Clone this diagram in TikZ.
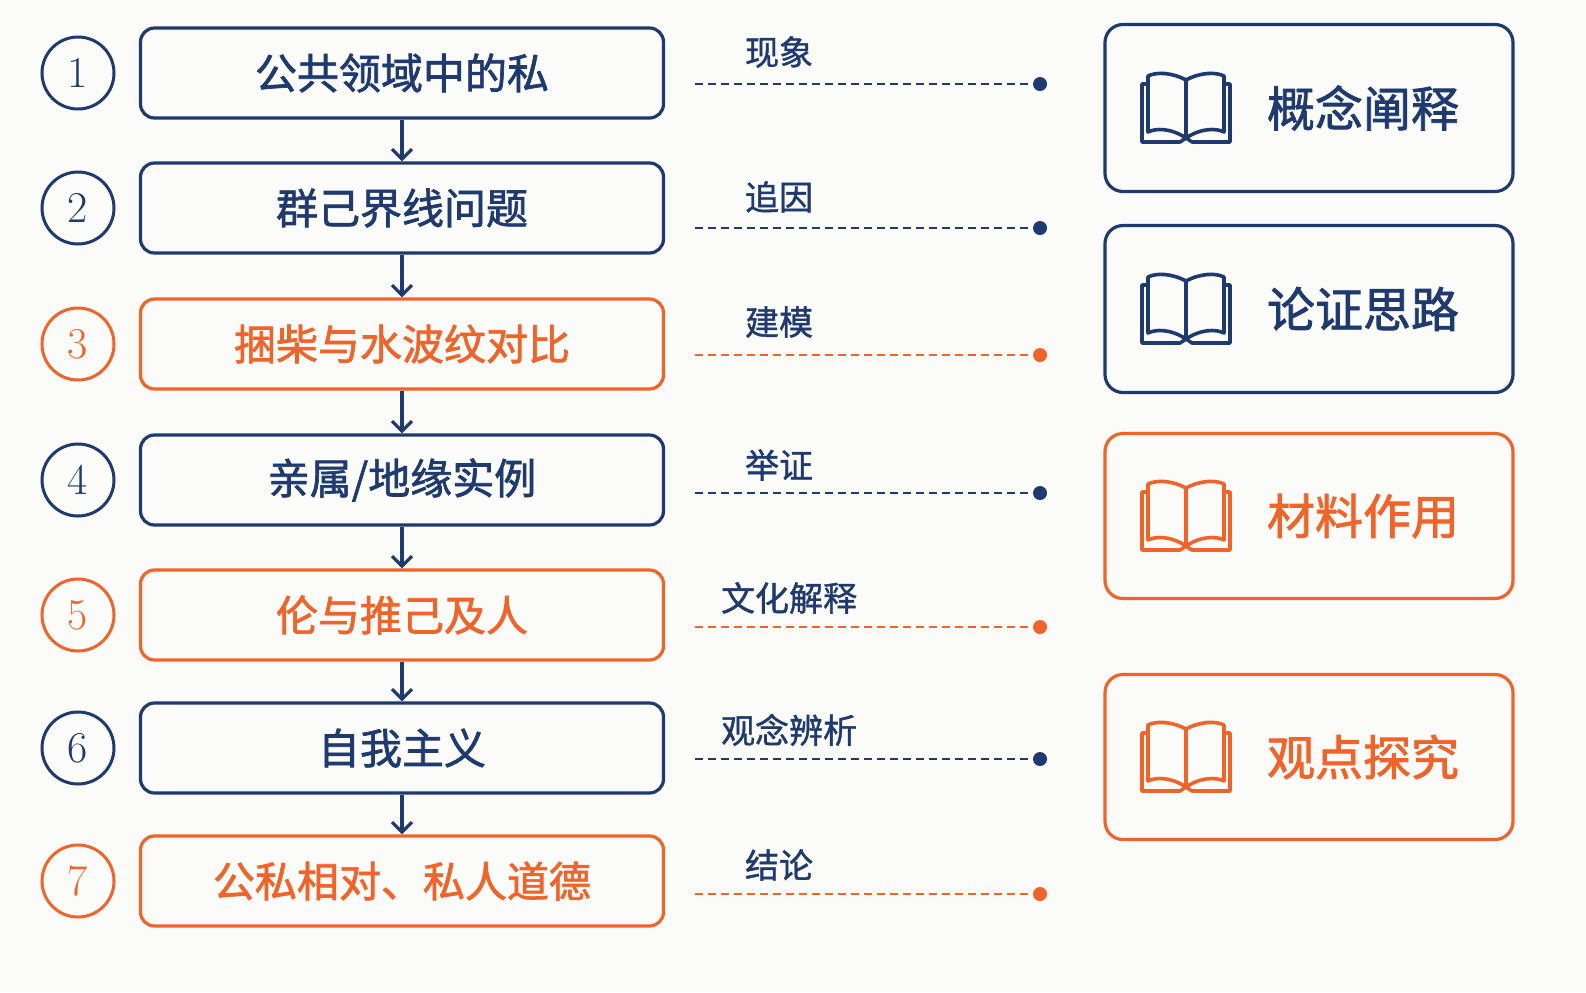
\documentclass[tikz,border=0pt]{standalone}
\usetikzlibrary{arrows.meta}
\usepackage{fontspec}
\newfontfamily\cjk{Noto Sans CJK SC}[FakeBold=1.6]
\newfontfamily\cjkl{Noto Sans CJK SC}[FakeBold=1.2]
\begin{document}
\definecolor{navy}{HTML}{1E3A6E}
\definecolor{org}{HTML}{F0642A}
\definecolor{bg}{HTML}{FBFBFA}
\begin{tikzpicture}[x=0.5pt,y=-0.5pt,
  step/.style={draw=#1,line width=1.6pt,rounded corners=7pt,minimum width=261.5pt,minimum height=45pt,text=#1,font=\cjk\fontsize{21}{24}\selectfont},
  num/.style={draw=#1,line width=1.5pt,circle,minimum size=36pt,inner sep=0pt,text=#1,font=\fontsize{22}{24}\selectfont},
  lab/.style={anchor=west,text=navy,font=\cjkl\fontsize{17}{20}\selectfont},
  dl/.style={draw=#1,dashed,line width=1.1pt,dash pattern=on 4pt off 2.5pt},
  dot/.style={fill=#1,circle,inner sep=0pt,minimum size=7pt},
  side/.style={draw=#1,line width=1.6pt,rounded corners=9pt,minimum width=204pt,text=#1},
  arr/.style={draw=navy,line width=1.6pt,-{Straight Barb[length=5pt,width=10pt]}},
  book/.pic={\begin{scope}[draw=#1,line width=1.8pt,line join=round]
    \draw (0,-28) -- (0,30);
    \draw (0,-28) .. controls (-15,-36) and (-30,-36) .. (-38,-32) -- (-38,24) .. controls (-30,20) and (-15,20) .. (0,30);
    \draw (0,-28) .. controls (15,-36) and (30,-36) .. (38,-32) -- (38,24) .. controls (30,20) and (15,20) .. (0,30);
    \draw (-38,-24) -- (-44,-24) -- (-44,34) -- (-6,34) -- (0,30) -- (6,34) -- (44,34) -- (44,-24) -- (38,-24);
  \end{scope}}]
\fill[bg] (0,0) rectangle (1586,992);
\useasboundingbox (0,0) rectangle (1586,992);
\foreach \i/\y/\c/\t in {1/73/navy/公共领域中的私,2/208/navy/群己界线问题,3/344/org/捆柴与水波纹对比,4/480/navy/{亲属/地缘实例},5/615/org/伦与推己及人,6/748/navy/自我主义,7/881/org/公私相对、私人道德}{
  \node[step=\c] (s\i) at (402,\y) {\t};
  \node[num=\c] (n\i) at (78,\y) {\i};
}
\foreach \a/\b in {1/2,2/3,3/4,4/5,5/6,6/7}{\draw[arr] (s\a.south) -- (s\b.north);}
\foreach \i/\y/\ly/\c/\x/\t in {1/84/52/navy/738/现象,2/228/197/navy/738/追因,3/355/322/org/738/建模,4/493/465/navy/738/举证,5/627/598/org/714/文化解释,6/759/730/navy/714/观念辨析,7/894/865/org/738/结论}{
  \node[lab] (l\i) at (\x,\ly) {\t};
  \coordinate (a\i) at (695,\y);
  \node[dot=\c] (d\i) at (1040,\y) {};
  \draw[dl=\c] (a\i) -- (d\i);
}
\foreach \i/\y/\h/\c/\t in {1/108/167/navy/概念阐释,2/309/167/navy/论证思路,3/516/165/org/材料作用,4/757/165/org/观点探究}{
  \node[side=\c,minimum height=\h*0.5pt] (r\i) at (1309,\y) {};
  \pic at (1186,\y) {book=\c};
  \node[text=\c,font=\cjk\fontsize{24}{28}\selectfont] (t\i) at (1363,\y) {\t};
}
\end{tikzpicture}
\end{document}
